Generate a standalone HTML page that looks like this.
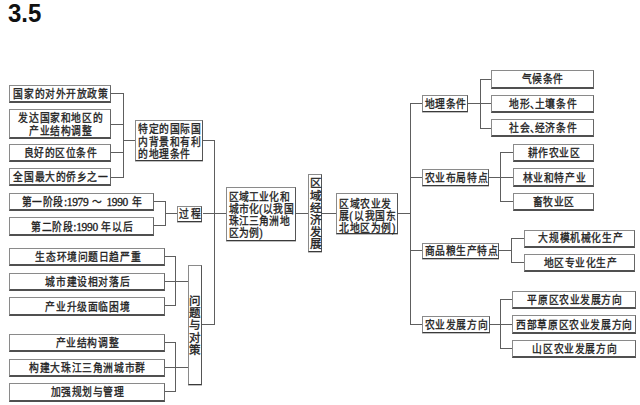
<!DOCTYPE html>
<html lang="zh-CN"><head><meta charset="utf-8"><style>
html,body{margin:0;padding:0;background:#fff;}
body{width:640px;height:405px;position:relative;overflow:hidden;font-family:"Liberation Serif",serif;color:#1a1a1a;}
.t{position:absolute;left:8px;top:-1px;font-family:"Liberation Sans",sans-serif;font-weight:bold;font-size:25px;color:#111;transform:scaleX(0.96);transform-origin:0 0;}
.b{position:absolute;box-sizing:border-box;border:1px solid #8a8a8a;border-bottom:2px solid #505050;border-right:1px solid #666;background:#fff;display:flex;align-items:center;justify-content:center;text-align:center;padding-left:2px;font-size:11.5px;line-height:12.3px;white-space:nowrap;}
.b span{display:block;transform:translateY(1.0px) scaleX(0.85);-webkit-text-stroke:0.35px #222;color:#222;letter-spacing:1.45px;}
.b.left span{transform-origin:0 50%;}
.b.in{border-bottom:1px solid #3a3a3a;border-right:1px solid #555;box-shadow:0 1px 0 rgba(0,0,0,0.25);}
.b.left{justify-content:flex-start;text-align:left;padding-left:1.5px;}
.b.vert{line-height:12.2px;padding-left:0;}
.b.lh12{line-height:11.95px;}
.b.ls2 span{letter-spacing:2.6px;}
.b.ls09 span{letter-spacing:0.9px;}
.dn{font-weight:normal;letter-spacing:-5.6px;}
.dg{font-style:normal;font-size:13.5px;letter-spacing:-0.4px;line-height:10px;}
.b.vert span{transform:translateY(0.8px);letter-spacing:0;}
.h{position:absolute;height:1px;background:#5e5e5e;}
.v{position:absolute;width:1px;background:#5e5e5e;}
</style></head><body>
<div class="t">3.5</div>

<div class="v" style="left:123.00px;top:93.00px;height:85.00px"></div>
<div class="v" style="left:164.50px;top:200.80px;height:25.40px"></div>
<div class="v" style="left:175.30px;top:256.20px;height:50.10px"></div>
<div class="v" style="left:175.30px;top:341.90px;height:50.00px"></div>
<div class="v" style="left:213.90px;top:139.90px;height:184.80px"></div>
<div class="v" style="left:409.50px;top:103.00px;height:222.00px"></div>
<div class="v" style="left:479.50px;top:78.50px;height:50.00px"></div>
<div class="v" style="left:500.25px;top:152.00px;height:49.75px"></div>
<div class="v" style="left:511.25px;top:238.00px;height:25.00px"></div>
<div class="v" style="left:500.25px;top:298.75px;height:50.25px"></div>
<div class="h" style="left:111.00px;top:93.00px;width:12.50px"></div>
<div class="h" style="left:111.00px;top:123.50px;width:12.50px"></div>
<div class="h" style="left:111.00px;top:151.70px;width:12.50px"></div>
<div class="h" style="left:111.00px;top:176.90px;width:12.50px"></div>
<div class="h" style="left:123.50px;top:140.00px;width:11.50px"></div>
<div class="h" style="left:153.50px;top:200.80px;width:11.50px"></div>
<div class="h" style="left:153.50px;top:225.20px;width:11.50px"></div>
<div class="h" style="left:165.00px;top:213.10px;width:12.50px"></div>
<div class="h" style="left:164.50px;top:256.20px;width:11.30px"></div>
<div class="h" style="left:164.50px;top:280.80px;width:11.30px"></div>
<div class="h" style="left:164.50px;top:305.30px;width:11.30px"></div>
<div class="h" style="left:175.80px;top:280.80px;width:12.20px"></div>
<div class="h" style="left:164.50px;top:341.90px;width:11.30px"></div>
<div class="h" style="left:164.50px;top:366.70px;width:11.30px"></div>
<div class="h" style="left:164.50px;top:390.90px;width:11.30px"></div>
<div class="h" style="left:175.80px;top:366.70px;width:12.20px"></div>
<div class="h" style="left:202.50px;top:139.90px;width:11.90px"></div>
<div class="h" style="left:202.50px;top:213.10px;width:23.50px"></div>
<div class="h" style="left:202.20px;top:323.70px;width:12.20px"></div>
<div class="h" style="left:295.50px;top:212.90px;width:13.50px"></div>
<div class="h" style="left:321.90px;top:212.80px;width:14.10px"></div>
<div class="h" style="left:397.50px;top:213.10px;width:12.50px"></div>
<div class="h" style="left:410.00px;top:103.00px;width:12.00px"></div>
<div class="h" style="left:410.00px;top:176.75px;width:12.00px"></div>
<div class="h" style="left:410.00px;top:250.40px;width:12.00px"></div>
<div class="h" style="left:410.00px;top:324.00px;width:12.00px"></div>
<div class="h" style="left:467.50px;top:103.00px;width:12.50px"></div>
<div class="h" style="left:480.00px;top:78.50px;width:11.00px"></div>
<div class="h" style="left:480.00px;top:103.00px;width:11.00px"></div>
<div class="h" style="left:480.00px;top:127.50px;width:11.00px"></div>
<div class="h" style="left:488.75px;top:176.75px;width:12.00px"></div>
<div class="h" style="left:500.75px;top:152.00px;width:11.75px"></div>
<div class="h" style="left:500.75px;top:176.75px;width:11.75px"></div>
<div class="h" style="left:500.75px;top:200.75px;width:11.75px"></div>
<div class="h" style="left:499.25px;top:250.40px;width:12.50px"></div>
<div class="h" style="left:511.75px;top:238.00px;width:12.00px"></div>
<div class="h" style="left:511.75px;top:262.00px;width:12.00px"></div>
<div class="h" style="left:489.50px;top:324.00px;width:11.25px"></div>
<div class="h" style="left:500.75px;top:298.75px;width:11.25px"></div>
<div class="h" style="left:500.75px;top:324.00px;width:11.25px"></div>
<div class="h" style="left:500.75px;top:348.00px;width:11.25px"></div>
<div class="b " style="left:9.00px;top:84.60px;width:102.00px;height:18.10px"><span>国家的对外开放政策</span></div>
<div class="b " style="left:9.00px;top:108.60px;width:102.00px;height:30.90px"><span>发达国家和地区的<br>产业结构调整</span></div>
<div class="b " style="left:9.00px;top:143.60px;width:102.00px;height:18.10px"><span>良好的区位条件</span></div>
<div class="b " style="left:9.00px;top:167.60px;width:102.00px;height:18.60px"><span>全国最大的侨乡之一</span></div>
<div class="b " style="left:9.00px;top:192.60px;width:144.50px;height:18.60px"><span>第一阶段<i class="dg">:1979</i> ～ <i class="dg">1990</i> 年</span></div>
<div class="b " style="left:9.00px;top:217.10px;width:144.50px;height:18.60px"><span>第二阶段<i class="dg">:1990</i> 年以后</span></div>
<div class="b " style="left:9.00px;top:247.60px;width:155.50px;height:18.60px"><span>生态环境问题日趋严重</span></div>
<div class="b " style="left:9.00px;top:272.60px;width:155.50px;height:18.10px"><span>城市建设相对落后</span></div>
<div class="b " style="left:9.00px;top:297.10px;width:155.50px;height:18.60px"><span>产业升级面临困境</span></div>
<div class="b " style="left:9.00px;top:333.60px;width:155.50px;height:18.60px"><span>产业结构调整</span></div>
<div class="b " style="left:9.00px;top:358.60px;width:155.50px;height:18.10px"><span>构建大珠江三角洲城市群</span></div>
<div class="b " style="left:9.00px;top:382.60px;width:155.50px;height:19.10px"><span>加强规划与管理</span></div>
<div class="b left in" style="left:135.00px;top:119.50px;width:67.50px;height:41.00px"><span style="margin-top:1.40px">特定的国际国<br>内背景和有利<br>的地理条件</span></div>
<div class="b ls2 in" style="left:177.30px;top:205.50px;width:25.20px;height:16.50px"><span style="margin-top:-0.80px">过程</span></div>
<div class="b vert in" style="left:187.60px;top:264.50px;width:14.60px;height:120.00px"><span>问<br>题<br>与<br>对<br>策</span></div>
<div class="b left lh12 ls09 in" style="left:226.20px;top:187.20px;width:69.60px;height:53.60px"><span style="margin-top:1.60px">区域工业化和<br>城市化(以我国<br>珠江三角洲地<br>区为例)</span></div>
<div class="b vert in" style="left:308.40px;top:174.20px;width:13.50px;height:77.80px"><span>区<br>域<br>经<br>济<br>发<br>展</span></div>
<div class="b left lh12 in" style="left:336.00px;top:192.70px;width:61.90px;height:41.80px"><span style="margin-top:4.20px">区域农业发<br>展(以我国东<br>北地区为例)</span></div>
<div class="b  in" style="left:422.00px;top:95.00px;width:45.50px;height:17.00px"><span>地理条件</span></div>
<div class="b  in" style="left:422.00px;top:168.75px;width:66.75px;height:17.00px"><span>农业布局特点</span></div>
<div class="b  in" style="left:422.00px;top:242.50px;width:77.25px;height:16.75px"><span style="margin-top:-1.20px">商品粮生产特点</span></div>
<div class="b  in" style="left:421.50px;top:316.00px;width:68.00px;height:17.00px"><span>农业发展方向</span></div>
<div class="b " style="left:491.00px;top:70.10px;width:102.75px;height:18.60px"><span style="margin-top:-1.60px">气候条件</span></div>
<div class="b " style="left:491.00px;top:94.60px;width:102.75px;height:18.60px"><span>地形<b class="dn">、</b>土壤条件</span></div>
<div class="b " style="left:491.00px;top:119.10px;width:102.75px;height:18.10px"><span>社会<b class="dn">、</b>经济条件</span></div>
<div class="b " style="left:512.50px;top:144.10px;width:81.25px;height:17.60px"><span>耕作农业区</span></div>
<div class="b " style="left:512.50px;top:168.35px;width:81.25px;height:18.60px"><span>林业和特产业</span></div>
<div class="b " style="left:512.50px;top:192.60px;width:81.25px;height:18.10px"><span>畜牧业区</span></div>
<div class="b " style="left:523.75px;top:229.60px;width:111.25px;height:18.60px"><span style="margin-top:-1.60px">大规模机械化生产</span></div>
<div class="b " style="left:523.75px;top:253.60px;width:111.25px;height:18.60px"><span>地区专业化生产</span></div>
<div class="b " style="left:512.00px;top:290.60px;width:123.50px;height:18.10px"><span>平原区农业发展方向</span></div>
<div class="b " style="left:512.00px;top:315.35px;width:123.50px;height:18.35px"><span>西部草原区农业发展方向</span></div>
<div class="b " style="left:512.00px;top:339.60px;width:123.50px;height:18.60px"><span>山区农业发展方向</span></div>
</body></html>
